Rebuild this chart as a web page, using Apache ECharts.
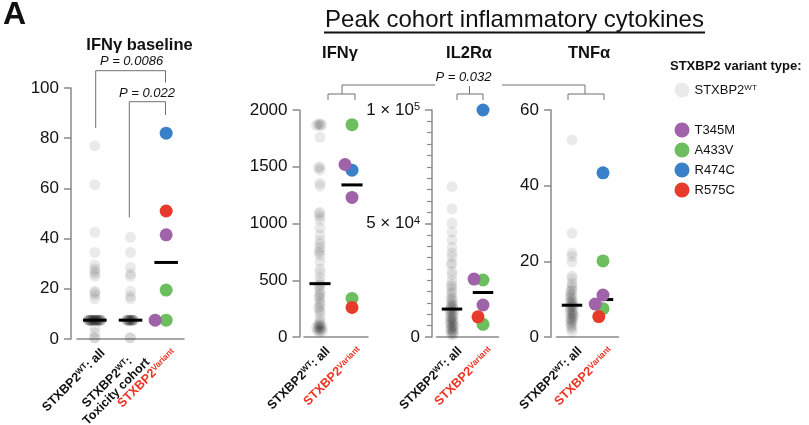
<!DOCTYPE html>
<html>
<head>
<meta charset="utf-8">
<script src="https://cdn.jsdelivr.net/npm/echarts@6.0.0/dist/echarts.min.js"></script>
<style>
html, body { margin: 0; padding: 0; background: #fff; }
#chart { width: 809px; height: 425px; }
</style>
</head>
<body>
<div id="chart"></div>
<script>
var FONT = '"Liberation Sans", Arial, Helvetica, sans-serif';

// categories ("|" marks the superscript part)
var baseCats = ['STXBP2|WT|: all', 'STXBP2|WT|:\nToxicity cohort', 'STXBP2|Variant|'];
var peakCats = ['STXBP2|WT|: all', 'STXBP2|Variant|'];

// IFNg baseline, WT patients
var baseAll = [77, 61.5, 42.5, 34.5, 29.5, 28, 27, 26, 25, 19, 18.5, 17.5, 16,
  7.5, 7.5, 7.5, 7.5, 7.5, 7.5, 7.5, 7.5, 7.5, 7.5, 7.5, 7.5, 7.5, 7.5,
  7.5, 7.5, 7.5, 7.5, 7.5, 7.5, 7.5, 7.5, 7.5, 7.5, 7.5, 7.5, 7.5, 7.5,
  4.5, 2.5, 0.5, 0.5];
var baseTox = [40.5, 34.5, 28.5, 26, 25, 19, 17, 16,
  7.5, 7.5, 7.5, 7.5, 7.5, 7.5, 7.5, 7.5, 7.5, 7.5, 7.5, 7.5, 7.5, 7.5, 7.5, 7.5,
  0.5, 0.5];

// peak cohort, WT patients
var ifngWT = [1880, 1875, 1870, 1865, 1860, 1760, 1500, 1490, 1470, 1355, 1330, 1100, 1085, 1060,
  1030, 960, 900, 850, 820, 790, 760, 745, 720, 665, 600, 565, 520, 480,
  460, 445, 420, 390, 370, 355, 340, 310, 290, 265, 255, 230, 210, 170, 140, 120,
  110, 100, 95, 90, 85, 80, 75, 65, 60, 55, 50, 45];
var il2raWT = [66200, 56500, 50200, 46300, 42800, 39500, 37100, 35300, 32700, 31900, 28900, 27400,
  24800, 23100, 22300, 21000, 19700, 18900, 17300, 16600, 16200, 15100, 14300, 13900, 13400, 12800, 12500,
  12100, 11800, 11200, 10700, 10300, 9900, 9100, 8800, 8300, 7900, 7400, 7100, 6600, 6300,
  5800, 5500, 5100, 4700, 4200, 3900, 3300, 2900, 2600, 2100, 1700, 1300, 900];
var tnfaWT = [52.1, 27.4, 22.2, 21.3, 19.8, 16.1, 15.4, 14.2, 13.6, 12.9, 12.3, 12.0, 11.4, 11.1,
  10.5, 10.3, 9.7, 9.4, 9.2, 8.9, 8.6,
  8.2, 8.0, 7.8, 7.3, 7.1, 6.9, 6.4, 6.2, 6.0, 5.7, 5.5, 5.1, 4.8, 4.6, 4.3, 3.9, 3.6, 3.1, 2.7, 2.2, 1.4];

// variant patients per variant type
var variantTypes = ['T345M', 'A433V', 'R474C', 'R575C'];
var variantColors = { T345M: '#a062a8', A433V: '#6cbe5f', R474C: '#3a80c8', R575C: '#e83a2a' };
var baseVar = { T345M: [41.5, 7.5], A433V: [19.5, 7.5], R474C: [82], R575C: [51] };
var ifngVar = { T345M: [1520, 1230], A433V: [1870, 340], R474C: [1470], R575C: [260] };
var il2raVar = { T345M: [25500, 14100], A433V: [25100, 5600], R474C: [100000], R575C: [8900] };
var tnfaVar = { T345M: [11.1, 8.7], A433V: [20.1, 7.5], R474C: [43.4], R575C: [5.4] };

// medians drawn as bars
var baseMed = [7.5, 7.5, 30.5];
var ifngMed = [470, 1340];
var il2raMed = [12300, 19600];
var tnfaMed = [8.4, 9.9];

var panels = [
  { cats: baseCats, wt: [baseAll, baseTox], vars: baseVar, med: baseMed, varCat: 2, max: 100, step: 20,
    left: 77, width: 107, top: 88, height: 251, offset: 6, jm: -10.5, vm: -2 },
  { cats: peakCats, wt: [ifngWT], vars: ifngVar, med: ifngMed, varCat: 1, max: 2000, step: 500,
    left: 304, width: 64, top: 110, height: 227, offset: 4.5, jm: -9, vm: -4 },
  { cats: peakCats, wt: [il2raWT], vars: il2raVar, med: il2raMed, varCat: 1, max: 100000, step: 50000,
    left: 436.5, width: 62, top: 110, height: 227, offset: 4.5, jm: -9, vm: -4, minor: true, sci: true },
  { cats: peakCats, wt: [tnfaWT], vars: tnfaVar, med: tnfaMed, varCat: 1, max: 60, step: 20,
    left: 556.5, width: 62, top: 110, height: 227, offset: 5.5, jm: -9, vm: -4 }
];

var AXIS = '#8a8a8a';
var RED = '#ee3323';

function tok(size, color, extra) {
  var t = { fontFamily: FONT, fontSize: size, fontWeight: 'bold', color: color };
  if (extra) for (var k in extra) t[k] = extra[k];
  return t;
}
var catRich = {
  b: tok(12.5, '#111'),
  s: tok(8, '#111', { verticalAlign: 'top' }),
  bc: tok(12.5, '#111', { align: 'center' }),
  sc: tok(8, '#111', { verticalAlign: 'top', align: 'center' }),
  r: tok(12.5, RED),
  rs: tok(8.5, RED, { verticalAlign: 'top' })
};

function catLabel(v) {
  var parts = v.split('|');
  var red = parts[1] === 'Variant';
  var multi = parts[2] && parts[2].indexOf('\n') >= 0;
  var t = red ? 'r' : (multi ? 'bc' : 'b');
  var s = red ? 'rs' : (multi ? 'sc' : 's');
  var out = '{' + t + '|' + parts[0] + '}{' + s + '|' + parts[1] + '}';
  if (parts[2]) {
    var lines = parts[2].split('\n');
    out += '{' + t + '|' + lines[0] + '}';
    for (var k = 1; k < lines.length; k++) out += '\n{' + t + '|' + lines[k] + '}';
  }
  return out;
}

function sciLabel(v) {
  if (v === 0) return '{m|0}';
  var e = v.toExponential().split('e+');
  return '{m|' + e[0] + ' \u00d7 10}{e|' + e[1] + '}';
}

var grids = [], xAxes = [], yAxes = [], series = [];
var drawOrder = ['R474C', 'A433V', 'T345M', 'R575C'];

panels.forEach(function (p, i) {
  grids.push({ left: p.left, top: p.top, width: p.width, height: p.height, outerBoundsMode: 'none' });
  xAxes.push({
    type: 'category', gridIndex: i, data: p.cats, position: 'bottom',
    jitter: 22, jitterOverlap: false, jitterMargin: p.jm,
    axisLine: { lineStyle: { color: AXIS, width: 1.5 } },
    axisTick: { alignWithLabel: true, length: 6, lineStyle: { color: AXIS, width: 1.5 } },
    axisLabel: { rotate: 45, interval: 0, margin: 4, verticalAlign: 'top', padding: [5, 0, 0, 0],
                 formatter: catLabel, rich: catRich }
  });
  xAxes.push({
    type: 'category', gridIndex: i, data: p.cats, position: 'top',
    jitter: 28, jitterOverlap: false, jitterMargin: p.vm,
    axisLine: { show: false }, axisTick: { show: false }, axisLabel: { show: false }
  });
  var yl = { fontFamily: FONT, fontSize: 17, color: '#111', margin: 12,
             formatter: function (v) { return String(v); } };
  if (p.sci) {
    yl.formatter = sciLabel;
    yl.rich = { m: { fontFamily: FONT, fontSize: 17, color: '#111' },
                e: { fontFamily: FONT, fontSize: 11, color: '#111', verticalAlign: 'top' } };
  }
  yAxes.push({
    type: 'value', gridIndex: i, min: 0, max: p.max, interval: p.step, offset: p.offset,
    axisLine: { show: true, lineStyle: { color: AXIS, width: 1.5 } },
    axisTick: { show: true, length: 7, lineStyle: { color: AXIS, width: 1.5 } },
    minorTick: { show: !!p.minor, splitNumber: 10, length: 5, lineStyle: { color: AXIS, width: 1.2 } },
    splitLine: { show: false },
    axisLabel: yl
  });
  p.wt.forEach(function (arr, c) {
    series.push({
      name: 'WT', type: 'scatter', xAxisIndex: 2 * i, yAxisIndex: i, z: 2,
      symbolSize: 11, itemStyle: { color: 'rgba(0,0,0,0.1)' },
      emphasis: { disabled: true },
      data: arr.map(function (v) { return [c, v]; })
    });
  });
  series.push({
    type: 'custom', xAxisIndex: 2 * i, yAxisIndex: i, z: 3,
    data: p.med.map(function (v, c) { return [c, v]; }),
    renderItem: function (params, api) {
      var pt = api.coord([api.value(0), api.value(1)]);
      var hw = api.size([1, 0])[0] * 0.33;
      return { type: 'rect', shape: { x: pt[0] - hw, y: pt[1] - 1.5, width: hw * 2, height: 3 },
               style: { fill: '#000' } };
    }
  });
  drawOrder.forEach(function (name) {
    series.push({
      name: name, type: 'scatter', xAxisIndex: 2 * i + 1, yAxisIndex: i, z: 4,
      symbolSize: 13, itemStyle: { color: variantColors[name], opacity: 1 },
      emphasis: { disabled: true },
      data: p.vars[name].map(function (v) { return [p.varCat, v]; })
    });
  });
});

function txt(x, y, text, font, extra) {
  var st = { text: text, font: font, fill: '#111', align: 'center', verticalAlign: 'middle' };
  if (extra) for (var k in extra) st[k] = extra[k];
  return { type: 'text', x: x, y: y, style: st, silent: true };
}
function poly(pts) {
  return { type: 'polyline', shape: { points: pts }, style: { stroke: '#707070', lineWidth: 1, fill: null }, silent: true };
}

var graphics = [
  txt(3, 15, 'A', 'bold 32px ' + FONT, { align: 'left' }),
  txt(139.5, 45, 'IFN\u03b3 baseline', 'bold 16.5px ' + FONT),
  txt(131.5, 61, 'P = 0.0086', 'italic 13px ' + FONT),
  txt(147, 93, 'P = 0.022', 'italic 13px ' + FONT),
  txt(514.5, 20, 'Peak cohort inflammatory cytokines', '24px ' + FONT),
  { type: 'line', shape: { x1: 324, y1: 32.5, x2: 705, y2: 32.5 }, style: { stroke: '#111', lineWidth: 2 }, silent: true },
  txt(340, 53, 'IFN\u03b3', 'bold 16.5px ' + FONT),
  txt(469, 53, 'IL2R\u03b1', 'bold 16.5px ' + FONT),
  txt(589, 53, 'TNF\u03b1', 'bold 16.5px ' + FONT),
  txt(463.5, 77, 'P = 0.032', 'italic 13px ' + FONT),
  txt(670, 66, 'STXBP2 variant type:', 'bold 13px ' + FONT, { align: 'left' }),
  poly([[95.7, 128], [95.7, 70.7], [165.5, 70.7], [165.5, 82.5]]),
  poly([[129.3, 217.5], [129.3, 101.7], [165.5, 101.7], [165.5, 115]]),
  poly([[328, 100], [328, 94], [355, 94], [355, 100]]),
  poly([[342, 94], [342, 85], [435, 85]]),
  poly([[457, 100], [457, 94], [483, 94], [483, 100]]),
  poly([[469.5, 94], [469.5, 86]]),
  poly([[568, 100], [568, 94], [604, 94], [604, 100]]),
  poly([[502, 85], [585, 85], [585, 94]])
];

var legendText = { fontFamily: FONT, fontSize: 13, color: '#111',
  rich: { a: { fontFamily: FONT, fontSize: 13, color: '#111' },
          s: { fontFamily: FONT, fontSize: 8, color: '#111', verticalAlign: 'top' } } };

var option = {
  animation: false,
  grid: grids,
  xAxis: xAxes,
  yAxis: yAxes,
  legend: [
    { left: 669.5, top: 77.5, orient: 'vertical', icon: 'circle', itemWidth: 15, itemHeight: 15,
      selectedMode: false, data: ['WT'], textStyle: legendText,
      formatter: function () { return '{a|STXBP2}{s|WT}'; } },
    { left: 669.5, top: 117.5, orient: 'vertical', icon: 'circle', itemWidth: 15, itemHeight: 15,
      itemGap: 5, selectedMode: false, data: variantTypes, textStyle: legendText }
  ],
  graphic: graphics,
  series: series
};

var myChart = echarts.init(document.getElementById('chart'));
myChart.setOption(option);
</script>
</body>
</html>
